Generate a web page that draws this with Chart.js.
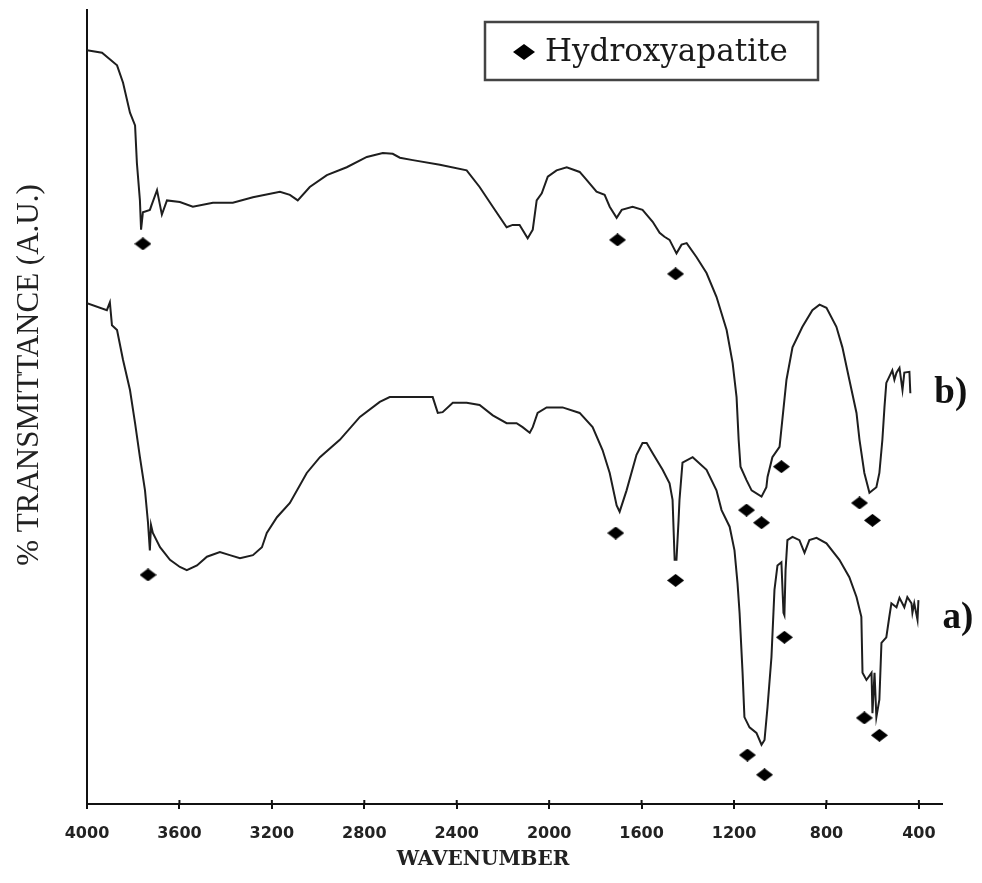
<!DOCTYPE html>
<html><head><meta charset="utf-8">
<script src="https://cdn.jsdelivr.net/npm/chart.js@4.4.1/dist/chart.umd.min.js"></script>
<style>html,body{margin:0;padding:0;background:#fff;}#wrap{width:982px;height:883px;}</style>
</head><body><div id="wrap"><canvas id="c" width="982" height="883"></canvas></div>
<script>
// ---- data (wavenumber cm-1, % transmittance in arbitrary units) ----
const wavenumbersB = [4000,3935,3870,3844,3814,3792,3784,3771,3766,3758,3728,3697,3676,3654,3598,3542,3455,3369,3282,3165,3122,3088,3036,2962,2876,2789,2720,2677,2646,2590,2473,2357,2301,2244,2184,2158,2128,2093,2071,2054,2032,2006,1968,1924,1868,1838,1795,1760,1738,1708,1686,1639,1596,1552,1522,1501,1479,1449,1427,1405,1362,1319,1276,1232,1206,1189,1180,1172,1146,1124,1081,1060,1055,1034,1003,973,947,904,861,830,800,757,731,701,670,657,636,614,584,571,558,549,541,515,506,497,484,471,463,441,437];
const transmittanceB = [94.9,94.6,93.0,90.8,87.0,85.4,80.6,75.9,72.2,74.4,74.7,77.2,74.1,75.9,75.7,75.1,75.6,75.6,76.3,77.0,76.6,75.9,77.6,79.1,80.1,81.4,81.9,81.8,81.3,81.0,80.4,79.7,77.6,75.1,72.5,72.8,72.8,71.1,72.2,75.9,76.8,78.9,79.7,80.1,79.5,78.5,77.0,76.6,75.1,73.7,74.7,75.1,74.7,73.2,71.8,71.3,70.9,69.2,70.3,70.5,68.7,66.7,63.7,59.5,55.3,51.0,45.6,42.2,40.5,39.2,38.4,39.6,40.9,43.4,44.7,53.2,57.3,59.9,62.0,62.7,62.3,59.9,57.3,53.2,49.0,45.6,41.4,38.9,39.6,41.4,45.6,49.7,52.8,54.4,53.2,54.1,54.7,51.9,54.1,54.2,51.5];

const wavenumbersA = [4000,3914,3901,3892,3870,3844,3814,3792,3771,3749,3736,3728,3723,3715,3684,3641,3598,3568,3524,3481,3425,3382,3338,3282,3243,3222,3178,3122,3049,2992,2906,2819,2733,2690,2504,2482,2461,2417,2357,2301,2244,2184,2141,2115,2084,2071,2050,2011,1942,1868,1812,1769,1738,1708,1695,1665,1622,1596,1578,1552,1509,1479,1466,1457,1449,1440,1436,1423,1379,1319,1276,1254,1219,1198,1185,1176,1163,1155,1133,1103,1081,1068,1055,1038,1025,1012,995,986,982,977,969,947,917,895,874,843,800,744,701,670,649,644,627,605,601,592,584,571,562,541,528,519,497,484,463,450,432,428,420,406,402];
const transmittanceA = [62.9,62.0,63.0,60.1,59.5,55.7,51.9,47.7,43.4,39.2,35.1,31.6,34.8,33.8,32.0,30.4,29.5,29.1,29.7,30.8,31.4,31.0,30.6,31.0,32.0,33.8,35.8,37.6,41.4,43.4,45.6,48.5,50.4,51.0,51.0,49.0,49.1,50.3,50.3,50.0,48.7,47.7,47.7,47.2,46.5,47.2,49.0,49.7,49.7,49.0,47.2,44.3,41.4,37.3,36.5,39.2,43.7,45.2,45.2,43.9,41.8,40.1,38.0,30.4,30.4,35.4,38.0,42.7,43.4,41.8,39.2,36.7,34.6,31.6,27.5,23.7,16.1,10.5,9.2,8.5,7.0,7.6,11.8,18.1,26.6,29.7,30.1,23.7,23.4,29.1,32.9,33.3,32.9,31.3,32.9,33.2,32.5,30.4,28.2,25.7,23.2,16.1,15.2,16.1,11.0,16.1,10.5,12.7,19.9,20.6,23.2,24.9,24.4,25.6,24.4,25.7,24.9,23.7,24.9,22.8,25.3];

const peaksB_x = [3758,1704,1453,1146,1081,995,657,601];
const peaksB_y = [70.4,70.9,66.6,36.7,35.1,42.2,37.6,35.4];
const peaksA_x = [3736,1712,1453,1142,1068,982,636,571];
const peaksA_y = [28.5,33.8,27.8,5.7,3.2,20.6,10.4,8.2];

const xTickValues = [4000,3600,3200,2800,2400,2000,1600,1200,800,400];
const seriesNames = ['b)', 'a)'];
const markerName = 'Hydroxyapatite';
const xTitle = 'WAVENUMBER';
const yTitle = '% TRANSMITTANCE (A.U.)';

// ---- helpers ----
function diamond(w, h) {
  const c = document.createElement('canvas');
  c.width = w; c.height = h;
  const g = c.getContext('2d');
  g.fillStyle = '#000';
  g.beginPath();
  g.moveTo(w / 2, 0); g.lineTo(w, h / 2); g.lineTo(w / 2, h); g.lineTo(0, h / 2);
  g.closePath(); g.fill();
  return c;
}
const pointDiamond = diamond(17, 13);
const legendDiamond = diamond(22, 16);

const toXY = (xs, ys) => xs.map((x, i) => ({x: x, y: ys[i]}));
const peakData = toXY(peaksB_x, peaksB_y).concat(toXY(peaksA_x, peaksA_y));

const LINE = '#1e1e1e';

const decorPlugin = {
  id: 'decor',
  afterDraw(chart) {
    const ctx = chart.ctx, ca = chart.chartArea;
    const xs = chart.scales.x;
    ctx.save();
    // tick marks crossing the axis (upper half)
    ctx.strokeStyle = '#111'; ctx.lineWidth = 2;
    xs.ticks.forEach(t => {
      const px = xs.getPixelForValue(t.value);
      ctx.beginPath(); ctx.moveTo(px, ca.bottom - 4); ctx.lineTo(px, ca.bottom); ctx.stroke();
    });
    // axis titles
    ctx.fillStyle = '#222';
    ctx.textAlign = 'center';
    ctx.textBaseline = 'middle';
    ctx.font = 'bold 20px "DejaVu Serif"';
    ctx.fillText(xTitle, ca.left + 396, ca.bottom + 56);
    ctx.save();
    ctx.translate(30, ca.top + 365);
    ctx.rotate(-Math.PI / 2);
    ctx.font = '31px "Liberation Serif"';
    ctx.fillText(yTitle, 0, 0);
    ctx.restore();
    // series labels a) b)
    ctx.fillStyle = '#111';
    ctx.font = 'bold 37px "Liberation Serif"';
    ctx.textBaseline = 'middle';
    ctx.textAlign = 'left';
    const offs = [0, 18];
    [0, 1].forEach(i => {
      const meta = chart.getDatasetMeta(i);
      const el = meta.data[meta.data.length - 1];
      ctx.fillText(chart.data.datasets[i].label, el.x + 24, el.y + offs[i]);
    });
    // legend box
    const bx = ca.left + 398, by = ca.top + 12, bw = 333, bh = 58;
    ctx.fillStyle = '#fff';
    ctx.fillRect(bx, by, bw, bh);
    ctx.strokeStyle = '#444'; ctx.lineWidth = 2.5;
    ctx.strokeRect(bx, by, bw, bh);
    ctx.drawImage(legendDiamond, bx + 28, by + 22);
    ctx.fillStyle = '#1a1a1a';
    ctx.font = '31px "DejaVu Serif"';
    ctx.textBaseline = 'alphabetic';
    ctx.fillText(chart.data.datasets[2].label, bx + 60, by + 39);
    ctx.restore();
  }
};

new Chart(document.getElementById('c'), {
  type: 'line',
  data: {
    datasets: [
      {label: seriesNames[0], data: toXY(wavenumbersB, transmittanceB), borderColor: LINE, borderWidth: 2, pointRadius: 0, tension: 0, fill: false},
      {label: seriesNames[1], data: toXY(wavenumbersA, transmittanceA), borderColor: LINE, borderWidth: 2, pointRadius: 0, tension: 0, fill: false},
      {label: markerName, data: peakData, showLine: false, pointStyle: pointDiamond, pointRadius: 8, borderWidth: 0}
    ]
  },
  options: {
    responsive: false,
    animation: false,
    events: [],
    layout: {padding: {left: 5, right: 40, top: 10, bottom: 0}},
    plugins: {legend: {display: false}, tooltip: {enabled: false}},
    scales: {
      x: {
        type: 'linear', reverse: true, min: 300, max: 4000,
        afterBuildTicks: s => { s.ticks = xTickValues.map(v => ({value: v})); },
        afterFit: s => { s.height = 79; },
        grid: {display: true, drawOnChartArea: false, drawTicks: true, tickLength: 5, color: '#111', lineWidth: 2},
        border: {display: true, color: '#111', width: 2},
        ticks: {color: '#222', font: {family: 'DejaVu Sans', size: 16, weight: 'bold'}, padding: 15, maxRotation: 0, autoSkip: false,
                callback: v => String(v)},
        title: {display: false, text: xTitle}
      },
      y: {
        type: 'linear', min: -0.5, max: 100,
        afterFit: s => { s.width = 82; },
        grid: {display: false},
        border: {display: true, color: '#111', width: 2},
        ticks: {display: false},
        title: {display: false, text: yTitle}
      }
    }
  },
  plugins: [decorPlugin]
});
</script></body></html>
